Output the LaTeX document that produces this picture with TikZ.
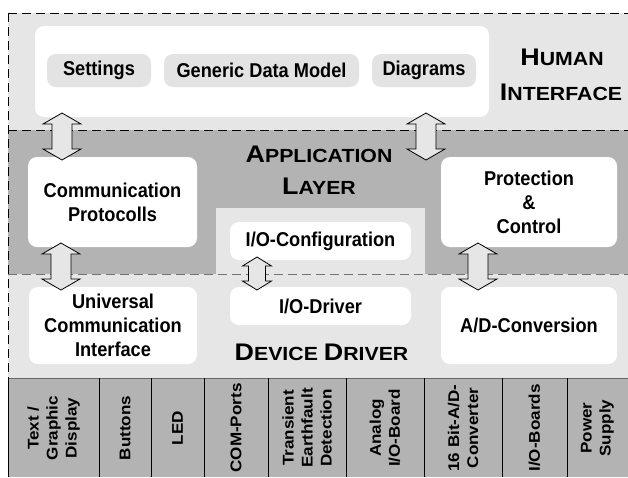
\documentclass[tikz,border=0pt]{standalone}
\usepackage{fontspec}
\setmainfont{Liberation Sans}
\newfontfamily\boxfont[FakeStretch=0.91]{Liberation Sans}
\newfontfamily\titlefont[FakeStretch=1.12]{Liberation Sans}
\newfontfamily\stripfont[FakeStretch=1.1]{Liberation Sans}
\usetikzlibrary{calc}
\definecolor{lightfill}{HTML}{E6E6E6}
\definecolor{darkfill}{HTML}{B3B3B3}
\definecolor{pillfill}{HTML}{E3E3E3}

% vertical double block arrow between two named coordinates
% #1 top tip, #2 bottom tip, #3 head half width, #4 shaft half width, #5 head length
\newcommand\blockarrow[5]{%
  \draw[arrowbody] let \p1=(#1), \p2=(#2) in
    (\x1,\y1) -- (\x1+#3pt,\y1-#5pt) -- (\x1+#4pt,\y1-#5pt)
    -- (\x1+#4pt,\y2+#5pt) -- (\x1+#3pt,\y2+#5pt) -- (\x2,\y2)
    -- (\x1-#3pt,\y2+#5pt) -- (\x1-#4pt,\y2+#5pt)
    -- (\x1-#4pt,\y1-#5pt) -- (\x1-#3pt,\y1-#5pt) -- cycle;}

\tikzset{
  whitebox/.style={draw=none, fill=white, rounded corners=9pt, align=center,
    font=\boxfont\fontsize{20}{24}\selectfont\bfseries, inner sep=0pt},
  pill/.style={draw=none, fill=pillfill, rounded corners=9pt, align=center,
    font=\boxfont\fontsize{20}{24}\selectfont\bfseries, inner sep=0pt,
    minimum height=33pt},
  layertitle/.style={font=\titlefont\fontsize{19}{19}\selectfont\bfseries,
    inner sep=0pt, anchor=center},
  column/.style={rotate=90, align=center, inner sep=0pt,
    font=\stripfont\fontsize{15.5}{19}\selectfont\bfseries},
  arrowbody/.style={draw=black, fill=lightfill, line width=0.8pt, line join=miter},
  bandline/.style={draw=black, line width=0.9pt, dash pattern=on 9pt off 5pt},
  softline/.style={draw=black!55, line width=0.8pt, dash pattern=on 9pt off 5pt},
}
% first letter large, the rest in caps of the running (smaller) size
\newcommand\capsword[2]{{\fontsize{24}{24}\selectfont #1}#2}

\begin{document}
\begin{tikzpicture}[x=1pt, y=-1pt]
\useasboundingbox (0,0) rectangle (628,477);

% layer bands
\fill[lightfill] (8,13) rectangle (628,130);
\fill[darkfill] (8,130) rectangle (628,274);
\fill[lightfill] (8,274) rectangle (628,378);
\fill[darkfill] (8,378) rectangle (628,477);
\fill[lightfill] (216,208) rectangle (425,274);

% band separators
\draw[bandline] (8,13) -- (628,13);
\draw[bandline] (8,130) -- (628,130);
\draw[softline] (8,274) -- (628,274);
\draw[bandline] (8,13) -- (8,378);

% human interface
\node[whitebox, minimum width=454pt, minimum height=91pt] (hi) at (262,71.5) {};
\node[pill, minimum width=104pt] (settings) at (99,70.5) {Settings};
\node[pill, minimum width=195pt] (gdm) at (261.5,70.5) {Generic Data Model};
\node[pill, minimum width=104pt] (diagrams) at (424,70.5) {Diagrams};
\node[layertitle] (human) at (562,57) {\capsword{H}{UMAN}};
\node[layertitle] (interface) at (561,92) {\capsword{I}{NTERFACE}};

% application layer
\node[whitebox, minimum width=169pt, minimum height=90pt] (comm) at (112.5,202)
  {Communication\\Protocolls};
\node[whitebox, minimum width=176pt, minimum height=90pt] (prot) at (529,202)
  {Protection\\\&\\Control};
\node[whitebox, minimum width=181pt, minimum height=38pt] (iocfg) at (320.5,241)
  {I/O-Configuration};
\node[layertitle] (application) at (319,154) {\capsword{A}{PPLICATION}};
\node[layertitle] (layer) at (319,186) {\capsword{L}{AYER}};

% device driver
\node[whitebox, minimum width=168pt, minimum height=77pt] (uci) at (113,325.5)
  {Universal\\Communication\\Interface};
\node[whitebox, minimum width=181pt, minimum height=38pt] (iodrv) at (320.5,306)
  {I/O-Driver};
\node[whitebox, minimum width=176pt, minimum height=77pt] (adc) at (529,325.5)
  {A/D-Conversion};
\node[layertitle] (devdrv) at (321.5,352) {\capsword{D}{EVICE} \capsword{D}{RIVER}};

% arrow end points
\coordinate (a1t) at (62,113);  \coordinate (a1b) at (62,160);
\coordinate (a2t) at (426,113); \coordinate (a2b) at (426,160);
\coordinate (a3t) at (61,243);  \coordinate (a3b) at (61,290);
\coordinate (a4t) at (257,257); \coordinate (a4b) at (257,290);
\coordinate (a5t) at (478,243); \coordinate (a5b) at (478,290);
\blockarrow{a1t}{a1b}{19}{10}{11}
\blockarrow{a2t}{a2b}{19}{10}{11}
\blockarrow{a3t}{a3b}{19}{10}{11}
\blockarrow{a4t}{a4b}{14.5}{8.5}{9}
\blockarrow{a5t}{a5b}{19}{10}{11}

% hardware strip
\draw[black!60, line width=0.8pt] (8,378) -- (628,378);
\foreach \x in {8,99,151,204,268,346,424,502,567}
  \draw[black, line width=1pt] (\x,378) -- (\x,477);
\node[column] (hw1) at (53.5,428) {Text /\\Graphic\\Display};
\node[column] (hw2) at (125,428) {Buttons};
\node[column] (hw3) at (177.5,428) {LED};
\node[column] (hw4) at (236,428) {COM-Ports};
\node[column] (hw5) at (307,428) {Transient\\Earthfault\\Detection};
\node[column] (hw6) at (385,428) {Analog\\I/O-Board};
\node[column] (hw7) at (463,428) {16 Bit-A/D-\\Converter};
\node[column] (hw8) at (534.5,428) {I/O-Boards};
\node[column] (hw9) at (597.5,428) {Power\\Supply};
\end{tikzpicture}
\end{document}
